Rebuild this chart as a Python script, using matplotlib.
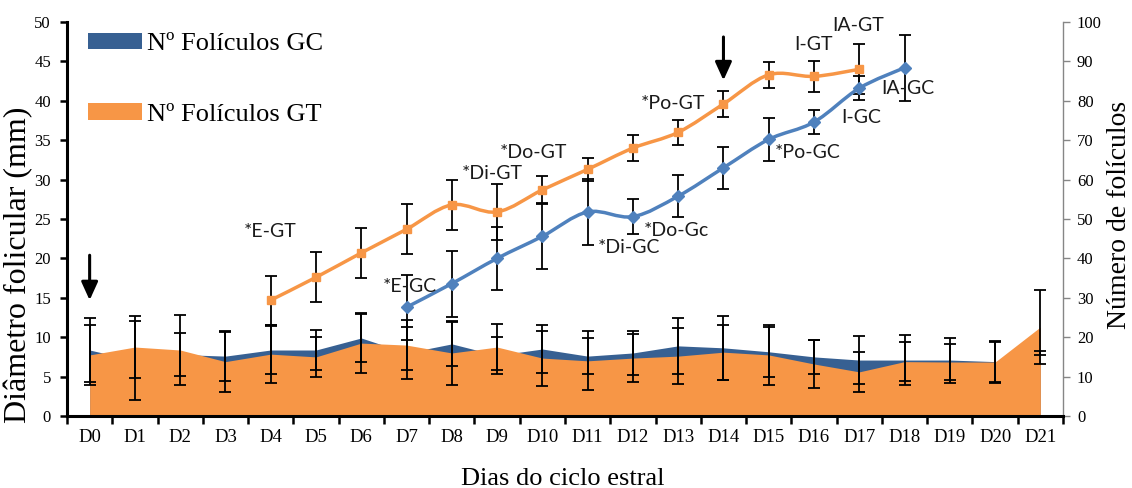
import numpy as np
import matplotlib
matplotlib.use("Agg")
import matplotlib.pyplot as plt
from matplotlib.path import Path
from matplotlib.patches import PathPatch, Patch
from matplotlib.ticker import FixedLocator

nan = np.nan

# ---------------- data ----------------
days = ["D0", "D1", "D2", "D3", "D4", "D5", "D6", "D7", "D8", "D9", "D10",
        "D11", "D12", "D13", "D14", "D15", "D16", "D17", "D18", "D19", "D20", "D21"]

# Follicle diameter (mm), left axis
gt_diam = [nan, nan, nan, nan, 14.7, 17.6, 20.7, 23.7, 26.8, 25.9, 28.7,
           31.3, 34.0, 36.0, 39.6, 43.3, 43.1, 44.0, nan, nan, nan, nan]
gt_diam_err = [nan, nan, nan, nan, 3.1, 3.15, 3.2, 3.2, 3.2, 3.6, 1.7,
               1.5, 1.6, 1.6, 1.6, 1.65, 1.95, 3.2, nan, nan, nan, nan]
gc_diam = [nan, nan, nan, nan, nan, nan, nan, 13.8, 16.8, 20.0, 22.8,
           25.9, 25.3, 27.9, 31.5, 35.1, 37.3, 41.6, 44.2, nan, nan, nan]
gc_diam_err = [nan, nan, nan, nan, nan, nan, nan, 4.1, 4.2, 4.0, 4.1,
               4.2, 2.2, 2.7, 2.7, 2.7, 1.5, 1.5, 4.2, nan, nan, nan]

# Number of follicles, right axis
gc_count = [16.75, 14.1, 15.6, 15.2, 16.75, 16.75, 19.8, 16.0, 18.3, 15.4, 17.0,
            15.2, 16.0, 17.8, 17.3, 16.3, 15.0, 14.2, 14.2, 14.2, 13.8, 15.9]
gc_count_err = [8.1, 10.0, 5.5, 6.3, 6.0, 5.1, 6.0, 6.6, 5.6, 4.7, 6.1,
                4.6, 5.6, 7.1, 8.2, 6.3, 4.4, 6.0, 6.4, 5.7, 5.3, 0.5]
gt_count = [15.5, 17.5, 16.75, 13.8, 15.7, 15.0, 18.5, 18.0, 16.0, 17.5, 14.7,
            14.0, 14.7, 15.2, 16.2, 15.5, 13.2, 11.2, 13.8, 13.7, 13.7, 22.6]
gt_count_err = [7.6, 7.9, 8.9, 7.6, 7.4, 5.1, 7.6, 6.3, 8.1, 5.8, 7.0,
                7.5, 6.1, 7.1, 7.0, 7.6, 6.2, 5.1, 4.9, 4.6, 5.1, 9.3]

legend_labels = ["Nº Folículos GC", "Nº Folículos GT"]

# annotations: (text, x position in day index, y in mm)
annotations = [("*E-GT", 3.99, 23.4), ("*E-GC", 7.07, 16.4), ("*Di-GT", 8.9, 30.8),
               ("*Do-GT", 9.81, 33.4), ("*Di-GC", 11.91, 21.4), ("*Do-Gc", 12.95, 23.6),
               ("*Po-GT", 12.88, 39.7), ("*Po-GC", 15.87, 33.5), ("I-GT", 15.98, 47.1),
               ("IA-GT", 16.98, 49.5), ("I-GC", 17.04, 37.9), ("IA-GC", 18.08, 41.5)]
# arrows: (day index, y start, y end) in mm
arrows = [(0, 20.4, 14.7), (14, 48.1, 42.6)]

# ---------------- style ----------------
C_BLUE_AREA = "#376092"
C_ORANGE = "#F79646"
C_BLUE_LINE = "#4F81BD"
SERIF = ["Liberation Serif", "DejaVu Serif"]
SANS = ["Lato", "DejaVu Sans"]

W, H = 1132, 488
fig = plt.figure(figsize=(W / 100, H / 100), dpi=100)
L, R, T, B = 67, 1063, 22, 416
ax = fig.add_axes([L / W, 1 - B / H, (R - L) / W, (B - T) / H])
ax2 = ax.twinx()
ax.set_zorder(ax2.get_zorder() + 1)
ax.patch.set_visible(False)

x = np.arange(len(days))

# areas (right axis)
ax2.fill_between(x, gc_count, color=C_BLUE_AREA, lw=0, zorder=1)
ax2.fill_between(x, gt_count, color=C_ORANGE, lw=0, zorder=2)
eb_kw = dict(fmt="none", ecolor="black", elinewidth=1.3, capsize=4.3, capthick=1.3)
ax2.errorbar(x, gc_count, yerr=gc_count_err, zorder=3, **eb_kw)
ax2.errorbar(x, gt_count, yerr=gt_count_err, zorder=3, **eb_kw)


def smooth_path(xs, ys):
    pts = np.column_stack([xs, ys])
    n = len(pts)
    verts = [pts[0]]
    codes = [Path.MOVETO]
    for i in range(n - 1):
        p0 = pts[i - 1] if i > 0 else pts[i]
        p1 = pts[i]
        p2 = pts[i + 1]
        p3 = pts[i + 2] if i + 2 < n else pts[i + 1]
        c1 = p1 + (p2 - p0) / 6.0
        c2 = p2 - (p3 - p1) / 6.0
        verts += [c1, c2, p2]
        codes += [Path.CURVE4] * 3
    return Path(verts, codes)


for vals, errs, color, marker, ms in [
        (gt_diam, gt_diam_err, C_ORANGE, "s", 6.0),
        (gc_diam, gc_diam_err, C_BLUE_LINE, "D", 6.5)]:
    v = np.array(vals, dtype=float)
    e = np.array(errs, dtype=float)
    ok = ~np.isnan(v)
    ax.errorbar(x[ok], v[ok], yerr=e[ok], zorder=3, **eb_kw)
    ax.add_patch(PathPatch(smooth_path(x[ok], v[ok]), facecolor="none",
                           edgecolor=color, lw=2.5, zorder=4))
    ax.plot(x[ok], v[ok], ls="none", marker=marker, ms=ms, color=color,
            mec=color, zorder=5)

for txt, tx, ty in annotations:
    ax.text(tx, ty, txt, ha="center", va="center", fontsize=14, family=SANS,
            color="#1a1a1a", zorder=6)

for ax_x, y0, y1 in arrows:
    ax.annotate("", xy=(ax_x, y1), xytext=(ax_x, y0),
                arrowprops=dict(arrowstyle="-|>,head_length=1.1,head_width=0.5",
                                lw=2.2, color="black", shrinkA=0, shrinkB=0),
                zorder=6)

# axes
ax.set_xlim(-0.5, len(days) - 0.5)
ax.set_ylim(0, 50)
ax2.set_ylim(0, 100)

ax.set_xticks(x)
ax.set_xticklabels(days, fontsize=13.5, family=SERIF)
ax.xaxis.set_minor_locator(FixedLocator(np.arange(-0.5, len(days), 1.0)))
ax.tick_params(axis="x", which="major", length=0, pad=9.5)
ax.tick_params(axis="x", which="minor", length=6, width=1.8, direction="out")

ax.set_yticks(np.arange(0, 51, 5))
ax.tick_params(axis="y", which="major", length=5, width=1.8, direction="out",
               pad=6.5, labelsize=12)
for lab in ax.get_yticklabels():
    lab.set_family(SERIF)

ax2.set_yticks(np.arange(0, 101, 10))
ax2.tick_params(axis="y", which="major", length=5, width=1.0, color="#868686",
                direction="out", pad=5, labelsize=12)
for lab in ax2.get_yticklabels():
    lab.set_family(SERIF)

for s in ["top", "right"]:
    ax.spines[s].set_visible(False)
ax.spines["left"].set_linewidth(2.2)
ax.spines["bottom"].set_linewidth(2.2)
for s in ["top", "left", "bottom"]:
    ax2.spines[s].set_visible(False)
ax2.spines["right"].set_color("#868686")
ax2.spines["right"].set_linewidth(1.0)

ax.set_ylabel("Diâmetro folicular (mm)", fontsize=23, family=SERIF)
ax.yaxis.label.set_va("center")
ax.yaxis.set_label_coords(19 / W, 1 - 265 / H, transform=fig.transFigure)

ax2.set_ylabel("Número de folículos", fontsize=20, family=SERIF)
ax2.yaxis.label.set_va("center")
ax2.yaxis.set_label_coords(1120 / W, 1 - 215 / H, transform=fig.transFigure)

ax.set_xlabel("Dias do ciclo estral", fontsize=19, family=SERIF)
ax.xaxis.label.set_va("baseline")
ax.xaxis.set_label_coords(563 / W, 1 - 485 / H, transform=fig.transFigure)

handles = [Patch(facecolor=C_BLUE_AREA, edgecolor="none"),
           Patch(facecolor=C_ORANGE, edgecolor="none")]
ax.legend(handles, legend_labels, loc="upper left",
          bbox_to_anchor=(88 / W, 1 - 33 / H), bbox_transform=fig.transFigure,
          frameon=False, prop={"family": SERIF, "size": 19},
          handlelength=2.05, handleheight=0.57, handletextpad=0.2,
          labelspacing=1.82, borderpad=0, borderaxespad=0)

fig.savefig("out.png", dpi=100)
